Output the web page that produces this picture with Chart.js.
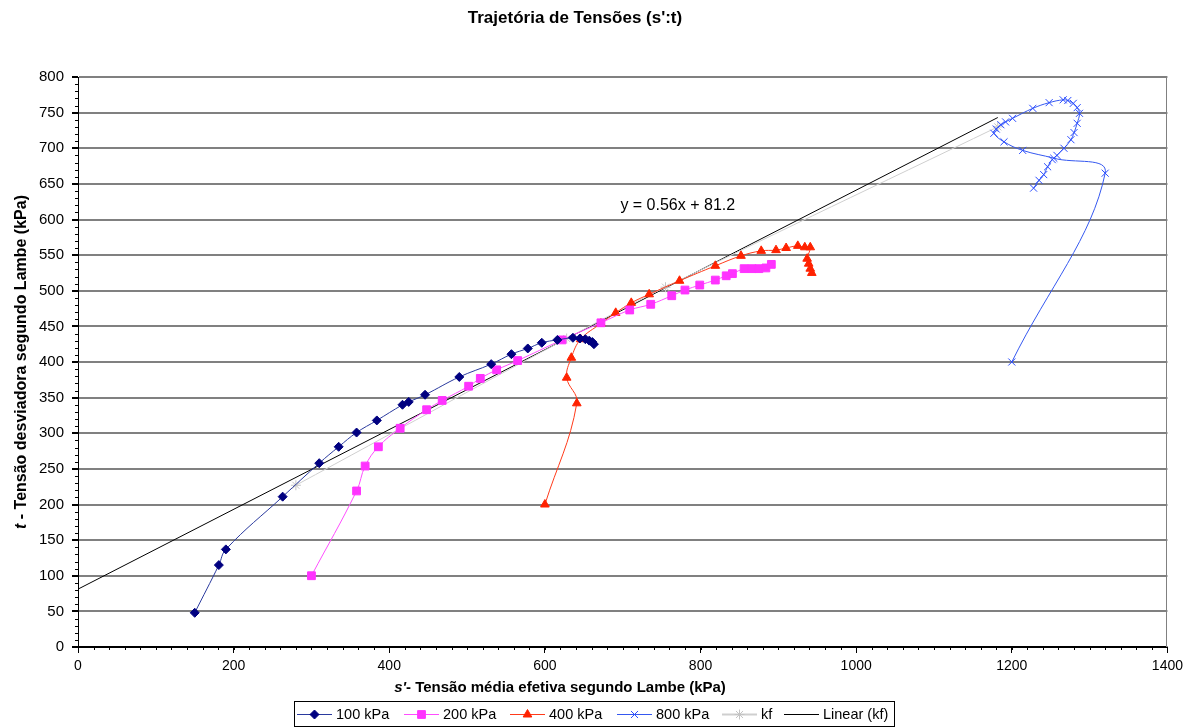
<!DOCTYPE html>
<html>
<head>
<meta charset="utf-8">
<script src="https://cdn.jsdelivr.net/npm/chart.js@4.4.1/dist/chart.umd.min.js"></script>
<style>
  html, body { margin: 0; padding: 0; background: #fff; }
</style>
</head>
<body>
<canvas id="chart" width="1188" height="728"></canvas>
<script>
// [s', t] pairs (kPa)
const test100 = [[150,48],[181,115],[190,137],[263,211],[310,258],[335,281],[358,301],[384,318],[417,340],[425,344],[446,354],[490,379],[531,397],[557,411],[578,419],[596,427],[616,431],[636,434],[645,433],[652,432],[657,430],[661,428],[663,425]];
const test200 = [[300,100],[358,219],[369,254],[386,281],[414,307],[448,333],[468,346],[502,366],[517,377],[538,389],[565,402],[622,431],[672,455],[709,473],[736,481],[763,493],[780,501],[799,508],[819,515],[833,521],[841,524],[856,531],[866,531],[875,531],[884,532],[891,537]];
const test400 = [[600,200],[641,342],[628,378],[634,406],[646,432],[672,454],[691,469],[711,483],[734,495],[773,514],[819,535],[852,549],[878,556],[897,557],[910,560],[925,563],[934,561],[941,561],[937,545],[939,538],[941,531],[943,525]];
const test800 = [[1200,400],[1320,665],[1254,686],[1214,697],[1190,709],[1177,721],[1180,727],[1186,733],[1192,737],[1201,742],[1227,756],[1248,764],[1266,768],[1272,767],[1279,763],[1284,757],[1287,749],[1284,735],[1280,722],[1276,712],[1267,700],[1258,690],[1252,684],[1246,674],[1241,663],[1235,655],[1228,644]];
const kf = [[280,227],[628,433],[755,505],[1182,730]];

// trendline shown on the chart: y = 0.56x + 81.2
const kfSlope = 0.56;
const kfIntercept = 81.2;
const trendX = [0, 1182];

const xTicks = [0, 200, 400, 600, 800, 1000, 1200, 1400];
const yTicks = [0, 50, 100, 150, 200, 250, 300, 350, 400, 450, 500, 550, 600, 650, 700, 750, 800];

const FONT = '"Liberation Sans", Arial, sans-serif';

function pts(arr) {
  return arr.map(p => ({ x: p[0], y: p[1] }));
}

const trend = trendX.map(x => ({ x: x, y: kfSlope * x + kfIntercept }));

const series = [
  { label: '100 kPa', data: pts(test100), line: '#2a3a9e', mark: '#000080', style: 'rectRot', r: 4.5 },
  { label: '200 kPa', data: pts(test200), line: '#ff4dff', mark: '#ff33ff', style: 'rect', r: 5.5 },
  { label: '400 kPa', data: pts(test400), line: '#ff3a1a', mark: '#ff2200', style: 'triangle', r: 5 },
  { label: '800 kPa', data: pts(test800), line: '#3558f0', mark: '#2a4cff', style: 'crossRot', r: 5 },
  { label: 'kf', data: pts(kf), line: '#cfcfcf', mark: '#c4c4c4', style: 'star', r: 5 },
  { label: 'Linear (kf)', data: trend, line: '#000000', mark: '#000000', style: false, r: 0 }
];

const datasets = series.map(s => ({
  label: s.label,
  data: s.data,
  showLine: true,
  borderColor: s.line,
  borderWidth: 1,
  backgroundColor: s.mark,
  pointBackgroundColor: s.mark,
  pointBorderColor: s.mark,
  pointBorderWidth: 1,
  pointStyle: s.style || 'circle',
  pointRadius: s.r,
  tension: s.label === 'Linear (kf)' ? 0 : 0.4
}));

// draws title, axis titles, minor ticks, equation and the boxed legend
const decor = {
  id: 'decor',
  beforeDatasetsDraw(chart) {
    const { ctx, chartArea: a } = chart;
    ctx.save();
    ctx.strokeStyle = '#808080';
    ctx.lineWidth = 1;
    ctx.beginPath();
    ctx.moveTo(Math.round(a.right) - 0.5, a.top);
    ctx.lineTo(Math.round(a.right) - 0.5, a.bottom);
    ctx.stroke();
    ctx.restore();
  },
  afterDatasetsDraw(chart) {
    const { ctx, scales: { x, y } } = chart;
    ctx.save();
    ctx.fillStyle = '#000';
    ctx.font = '16px ' + FONT;
    ctx.textBaseline = 'middle';
    ctx.fillText('y = 0.56x + 81.2', x.getPixelForValue(697), y.getPixelForValue(620));
    ctx.restore();
  },
  afterDraw(chart) {
    const { ctx, chartArea: a, scales: { x, y } } = chart;
    ctx.save();
    ctx.strokeStyle = '#000';
    ctx.lineWidth = 1;
    // minor ticks
    ctx.beginPath();
    for (let v = 0; v <= 800; v += 10) {
      const py = Math.round(y.getPixelForValue(v)) + 0.5;
      ctx.moveTo(a.left - 3, py);
      ctx.lineTo(a.left, py);
    }
    for (let v = 0; v <= 1400; v += 20) {
      const px = Math.round(x.getPixelForValue(v)) + 0.5;
      ctx.moveTo(px, a.bottom);
      ctx.lineTo(px, a.bottom + 3);
    }
    ctx.stroke();

    // title
    ctx.fillStyle = '#000';
    ctx.textBaseline = 'middle';
    ctx.textAlign = 'center';
    ctx.font = 'bold 17px ' + FONT;
    ctx.fillText("Trajetória de Tensões (s':t)", 575, 18);

    // x axis title
    ctx.textAlign = 'left';
    const xi = "s'", xr = '- Tensão média efetiva segundo Lambe (kPa)';
    ctx.font = 'italic bold 15px ' + FONT;
    const wi = ctx.measureText(xi).width;
    ctx.font = 'bold 15px ' + FONT;
    const wr = ctx.measureText(xr).width;
    let sx = 560 - (wi + wr) / 2;
    ctx.font = 'italic bold 15px ' + FONT;
    ctx.fillText(xi, sx, 688);
    ctx.font = 'bold 15px ' + FONT;
    ctx.fillText(xr, sx + wi, 688);

    // y axis title
    ctx.save();
    ctx.translate(22, (a.top + a.bottom) / 2);
    ctx.rotate(-Math.PI / 2);
    const yi = 't', yr = ' - Tensão desviadora segundo Lambe (kPa)';
    ctx.font = 'italic bold 16px ' + FONT;
    const yw1 = ctx.measureText(yi).width;
    ctx.font = 'bold 16px ' + FONT;
    const yw2 = ctx.measureText(yr).width;
    const sy = -(yw1 + yw2) / 2;
    ctx.font = 'italic bold 16px ' + FONT;
    ctx.fillText(yi, sy, 0);
    ctx.font = 'bold 16px ' + FONT;
    ctx.fillText(yr, sy + yw1, 0);
    ctx.restore();

    // legend box
    ctx.strokeStyle = '#000';
    ctx.lineWidth = 1;
    ctx.strokeRect(294.5, 701.5, 600, 25);
    const starts = [297, 404, 510, 617, 722, 784];
    const cy = 714.5;
    ctx.font = '14.5px ' + FONT;
    series.forEach((s, i) => {
      const x0 = starts[i], x1 = x0 + 35;
      ctx.strokeStyle = s.line;
      ctx.lineWidth = s.label === 'kf' ? 2 : 1;
      ctx.beginPath();
      ctx.moveTo(x0, cy);
      ctx.lineTo(x1, cy);
      ctx.stroke();
      if (s.style && Chart.helpers && Chart.helpers.drawPoint) {
        ctx.fillStyle = s.mark;
        ctx.strokeStyle = s.mark;
        ctx.lineWidth = 1;
        Chart.helpers.drawPoint(ctx, { pointStyle: s.style, radius: s.r, rotation: 0, borderWidth: 1 }, (x0 + x1) / 2, cy);
      }
      ctx.fillStyle = '#000';
      ctx.fillText(s.label, x1 + 4, cy);
    });
    ctx.restore();
  }
};

new Chart(document.getElementById('chart'), {
  type: 'scatter',
  data: { datasets: datasets },
  plugins: [decor],
  options: {
    responsive: false,
    animation: false,
    events: [],
    layout: { padding: { top: 77, right: 20, left: 0, bottom: 0 } },
    plugins: {
      legend: { display: false },
      title: { display: false },
      tooltip: { enabled: false }
    },
    scales: {
      x: {
        type: 'linear',
        min: 0,
        max: 1400,
        afterFit: s => { s.height = 81; },
        afterBuildTicks: s => { s.ticks = xTicks.map(v => ({ value: v })); },
        grid: { drawOnChartArea: false, drawTicks: true, tickLength: 6, color: '#000' },
        border: { color: '#000', width: 1 },
        ticks: {
          color: '#000', padding: 5, maxRotation: 0,
          font: { family: FONT, size: 14 },
          callback: v => String(v)
        }
      },
      y: {
        type: 'linear',
        min: 0,
        max: 800,
        afterFit: s => { s.width = 78; },
        afterBuildTicks: s => { s.ticks = yTicks.map(v => ({ value: v })); },
        grid: {
          color: ctx => (ctx.tick && ctx.tick.value === 0) ? '#000' : '#808080',
          lineWidth: 2,
          tickColor: '#000',
          tickLength: 6
        },
        border: { color: '#000', width: 1 },
        ticks: {
          color: '#000', padding: 8,
          font: { family: FONT, size: 15 },
          callback: v => String(v)
        }
      }
    }
  }
});
</script>
</body>
</html>
